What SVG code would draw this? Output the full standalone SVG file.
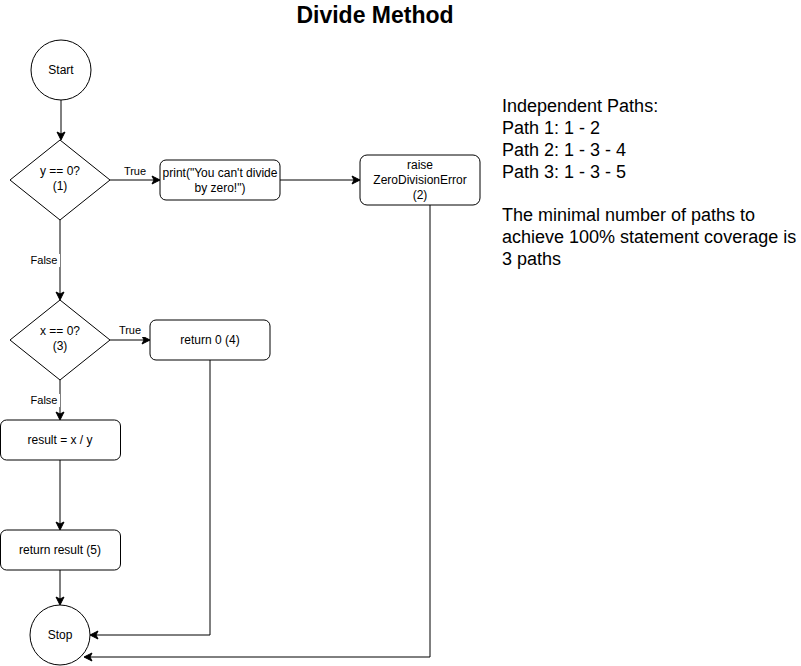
<svg xmlns="http://www.w3.org/2000/svg" width="801" height="666" viewBox="0 0 801 666">
<defs>
<marker id="arr" markerWidth="10" markerHeight="10" refX="8" refY="5" orient="auto" markerUnits="userSpaceOnUse">
<path d="M1,1 L9,5 L1,9 L3,5 Z" fill="#000" stroke="#000" stroke-width="1"/>
</marker>
<style>
.shape{fill:#fff;stroke:#000;stroke-width:1}
.t{font-family:"Liberation Sans",Arial,sans-serif;font-size:12px;fill:#000;text-anchor:middle}
.lbl{font-family:"Liberation Sans",Arial,sans-serif;font-size:11px;fill:#000;text-anchor:middle}
.c{fill:none;stroke:#000;stroke-width:1}
.side{font-family:"Liberation Sans",Arial,sans-serif;font-size:18px;fill:#000}
</style>
</defs>
<rect width="801" height="666" fill="#fff"/>
<text x="375" y="23" style="font-family:'Liberation Sans',Arial,sans-serif;font-size:23px;font-weight:bold;text-anchor:middle">Divide Method</text>

<g id="connectors">
<path class="c" d="M61,100 L61,139" marker-end="url(#arr)"/>
<path class="c" d="M110,180 L159,180" marker-end="url(#arr)"/>
<path class="c" d="M280,180 L359,180" marker-end="url(#arr)"/>
<path class="c" d="M430,205 L430,657 L85,657" marker-end="url(#arr)"/>
<path class="c" d="M60,220 L60,299" marker-end="url(#arr)"/>
<path class="c" d="M110,340 L149,340" marker-end="url(#arr)"/>
<path class="c" d="M210,360 L210,635 L91,635" marker-end="url(#arr)"/>
<path class="c" d="M60,380 L60,419" marker-end="url(#arr)"/>
<path class="c" d="M60,460 L60,529" marker-end="url(#arr)"/>
<path class="c" d="M60,570 L60,604" marker-end="url(#arr)"/>
<rect x="121" y="165" width="28" height="13" fill="#fff"/>
<text class="lbl" x="135" y="175">True</text>
<rect x="29" y="254" width="31" height="13" fill="#fff"/>
<text class="lbl" x="44" y="264">False</text>
<rect x="117" y="324" width="28" height="13" fill="#fff"/>
<text class="lbl" x="130" y="334">True</text>
<rect x="29" y="394" width="31" height="13" fill="#fff"/>
<text class="lbl" x="44" y="404">False</text>
</g>

<g id="start">
<circle class="shape" cx="61" cy="70" r="30"/>
<text class="t" x="61" y="74">Start</text>
</g>
<g id="decision1">
<path class="shape" d="M60,140 L110,180 L60,220 L10,180 Z"/>
<text class="t" x="60" y="175">y == 0?</text>
<text class="t" x="60" y="190">(1)</text>
</g>
<g id="print">
<rect class="shape" x="160" y="160" width="120" height="40" rx="6"/>
<text class="t" x="220" y="177">print("You can't divide</text>
<text class="t" x="220" y="192">by zero!")</text>
</g>
<g id="raise">
<rect class="shape" x="360" y="155" width="120" height="50" rx="7"/>
<text class="t" x="420" y="169">raise</text>
<text class="t" x="420" y="184">ZeroDivisionError</text>
<text class="t" x="420" y="199">(2)</text>
</g>
<g id="decision2">
<path class="shape" d="M60,300 L110,340 L60,380 L10,340 Z"/>
<text class="t" x="60" y="335">x == 0?</text>
<text class="t" x="60" y="350">(3)</text>
</g>
<g id="return0">
<rect class="shape" x="150" y="320" width="120" height="40" rx="6"/>
<text class="t" x="210" y="344">return 0 (4)</text>
</g>
<g id="result">
<rect class="shape" x="0.5" y="420" width="120" height="40" rx="6"/>
<text class="t" x="60" y="444">result = x / y</text>
</g>
<g id="returnresult">
<rect class="shape" x="0.5" y="530" width="120" height="40" rx="6"/>
<text class="t" x="60" y="554">return result (5)</text>
</g>
<g id="stop">
<circle class="shape" cx="60" cy="635" r="30"/>
<text class="t" x="60" y="639">Stop</text>
</g>

<g id="notes">
<text class="side" x="502" y="112">Independent Paths:</text>
<text class="side" x="502" y="134">Path 1: 1 - 2</text>
<text class="side" x="502" y="156">Path 2: 1 - 3 - 4</text>
<text class="side" x="502" y="178">Path 3: 1 - 3 - 5</text>
<text class="side" x="502" y="221">The minimal number of paths to</text>
<text class="side" x="502" y="243">achieve 100% statement coverage is</text>
<text class="side" x="502" y="265">3 paths</text>
</g>
</svg>
